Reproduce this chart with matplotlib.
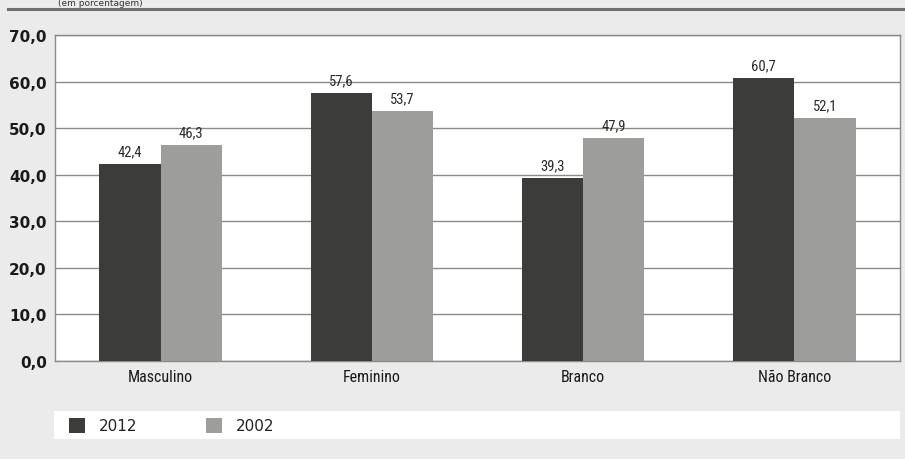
import matplotlib
matplotlib.use("Agg")
import matplotlib.pyplot as plt
import numpy as np
from matplotlib.patches import Rectangle
from matplotlib.lines import Line2D
from matplotlib import font_manager

categories = ["Masculino", "Feminino", "Branco", "Não Branco"]
v2012 = [42.4, 57.6, 39.3, 60.7]
v2002 = [46.3, 53.7, 47.9, 52.1]
series_names = ["2012", "2002"]
yticks = [0, 10, 20, 30, 40, 50, 60, 70]

names = {f.name for f in font_manager.fontManager.ttflist}
narrow = None
for cand in ["Liberation Sans Narrow", "DejaVu Sans Condensed", "Roboto Condensed", "Open Sans Condensed"]:
    if cand in names:
        narrow = cand
        break
cond_kw = dict(fontfamily=narrow) if narrow else dict(fontfamily="DejaVu Sans", fontstretch="condensed")

W, H = 905, 460
dpi = 100
fig = plt.figure(figsize=(W / dpi, H / dpi), dpi=dpi)
fig.patch.set_facecolor("#ebebeb")

def fx(px):
    return px / W

def fy(py):
    return 1 - py / H

ax = fig.add_axes([fx(55), fy(362), fx(900) - fx(55), fy(36) - fy(362)])
ax.set_facecolor("white")

c_dark = "#3c3c3b"
c_light = "#9d9d9c"
x = np.arange(len(categories))
bw = 0.29
b1 = ax.bar(x - bw / 2, v2012, bw, color=c_dark, zorder=3)
b2 = ax.bar(x + bw / 2, v2002, bw, color=c_light, zorder=3)

for bars, vals in ((b1, v2012), (b2, v2002)):
    for r, v in zip(bars, vals):
        ax.text(r.get_x() + r.get_width() / 2, v + 1.2, f"{v:.1f}".replace(".", ","),
                ha="center", va="bottom", fontsize=10.5, color="#2a2a2a", **cond_kw)

ax.set_xlim(-0.5, len(categories) - 0.5)
ax.set_ylim(0, 70)
ax.set_yticks(yticks)
ax.set_yticklabels([f"{t:.1f}".replace(".", ",") for t in yticks],
                   fontsize=11, fontweight="semibold", color="#1a1a1a")
ax.set_xticks(x)
ax.set_xticklabels(categories, fontsize=11.5, color="#1a1a1a", **cond_kw)
ax.tick_params(axis="both", length=0)
ax.tick_params(axis="y", pad=6)
ax.tick_params(axis="x", pad=6)
ax.yaxis.grid(True, color="#8a8a8a", linewidth=1.0, zorder=0)
ax.set_axisbelow(True)
for s in ax.spines.values():
    s.set_color("#8a8a8a")
    s.set_linewidth(1.0)

fig.add_artist(Line2D([fx(8), 1], [fy(10), fy(10)], color="#6f6f6f", linewidth=2.2))
fig.text(fx(58), fy(8.5), "(em porcentagem)", fontsize=6.5, color="#333333",
         ha="left", va="bottom")

fig.add_artist(Rectangle((fx(54), fy(440)), fx(900) - fx(54), fy(412) - fy(440),
                         transform=fig.transFigure, facecolor="white", edgecolor="none"))
for i, (name, col) in enumerate(zip(series_names, [c_dark, c_light])):
    x0 = 69 + i * 137
    fig.add_artist(Rectangle((fx(x0), fy(434)), fx(16), fy(419) - fy(434),
                             transform=fig.transFigure, facecolor=col, edgecolor="none"))
    fig.text(fx(x0 + 30), fy(426.5), name, fontsize=11, color="#222222",
             ha="left", va="center")

fig.savefig("out.png", dpi=dpi, facecolor=fig.get_facecolor())
